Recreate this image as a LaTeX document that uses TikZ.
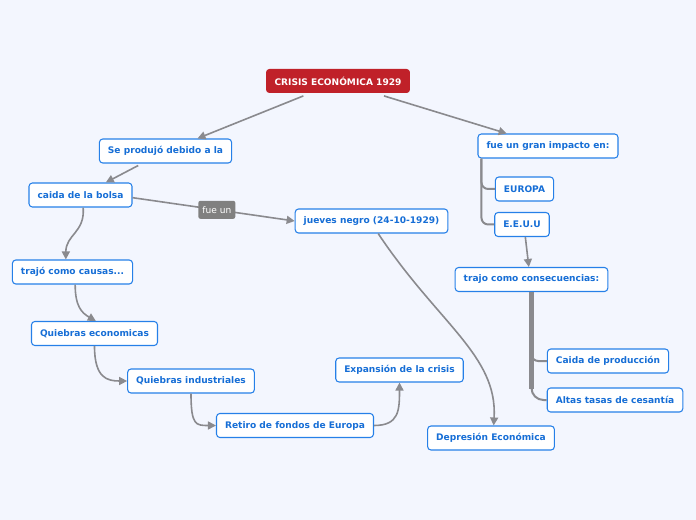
\documentclass[tikz,border=0pt]{standalone}
\usepackage{fontspec}
\setsansfont{DejaVu Sans}
\usetikzlibrary{arrows.meta}

\definecolor{bgblue}{RGB}{243,246,254}
\definecolor{topicline}{RGB}{38,128,232}
\definecolor{topictext}{RGB}{22,110,214}
\definecolor{crisisred}{RGB}{192,33,41}
\definecolor{taggray}{RGB}{128,128,128}
\definecolor{conngray}{RGB}{138,138,142}

\tikzstyle{every node}=[font=\sffamily\bfseries\fontsize{6.8}{8}\selectfont, inner xsep=6.4pt, inner ysep=0pt, minimum height=18pt]
\tikzstyle{topic}=[draw=topicline, fill=white, text=topictext, rounded corners=2.5pt, line width=0.8pt]
\tikzstyle{central}=[fill=crisisred, text=white, rounded corners=2.5pt]
\tikzstyle{tag}=[fill=taggray, text=white, font=\sffamily\fontsize{6.8}{8}\selectfont, rounded corners=1.5pt, minimum height=13.5pt, inner xsep=3pt]
\tikzstyle{conn}=[draw=conngray, line width=1.2pt, -{Triangle[length=6pt,width=6pt]}]
\tikzstyle{branch}=[draw=conngray, line width=1.5pt, rounded corners=5pt]

\begin{document}
\begin{tikzpicture}[x=0.75pt, y=-0.75pt]
  \fill[bgblue] (0,0) rectangle (696,520);
  \useasboundingbox (0,0) rectangle (696,520);

  \node[central] (crisis) at (338,81) {CRISIS ECONÓMICA 1929};

  % left side
  \node[topic] (debido) at (165.5,151) {Se produjó debido a la};
  \node[topic] (bolsa) at (80.5,195) {caida de la bolsa};
  \node[topic] (causas) at (72.5,272) {trajó como causas...};
  \node[topic] (qeco) at (94.5,333.5) {Quiebras economicas};
  \node[topic] (qind) at (191,381) {Quiebras industriales};
  \node[topic] (retiro) at (295,425.5) {Retiro de fondos de Europa};
  \node[topic] (expansion) at (399.5,370) {Expansión de la crisis};
  \node[topic] (jueves) at (371.5,221) {jueves negro (24-10-1929)};
  \node[topic] (depresion) at (491,438) {Depresión Económica};

  % right side
  \node[topic] (impacto) at (548,146) {fue un gran impacto en:};
  \node[topic] (europa) at (524.5,189) {EUROPA};
  \node[topic] (eeuu) at (522,224.5) {E.E.U.U};
  \node[topic] (consec) at (531.5,279.5) {trajo como consecuencias:};
  \node[topic] (produccion) at (608,361) {Caida de producción};
  \node[topic] (cesantia) at (615,400) {Altas tasas de cesantía};

  \draw[conn] ([xshift=-26pt,yshift=-2pt]crisis.south) -- ([xshift=24pt]debido.north);
  \draw[conn] ([xshift=34.5pt,yshift=-2pt]crisis.south) -- ([xshift=-31pt]impacto.north);
  \draw[conn] ([xshift=-20.5pt,yshift=-1.5pt]debido.south) -- ([xshift=19pt]bolsa.north);
  \draw[conn] ([yshift=-2pt]bolsa.east) -- node[tag, pos=0.52] (fueun) {fue un} (jueves.west);

  \draw[conn] ([xshift=2pt]bolsa.south) .. controls +(2,25) and +(0,-25) .. ([xshift=-5pt]causas.north);
  \draw[conn] ([xshift=2pt]causas.south) .. controls +(0,22) and +(-14,-8) .. ([xshift=1pt]qeco.north);
  \draw[conn] (qeco.south) .. controls +(0,32) and +(-20,0) .. (qind.west);
  \draw[conn] (qind.south) .. controls +(0,32) and +(-20,0) .. (retiro.west);
  \draw[conn] (retiro.east) .. controls +(25,0) and +(0,28) .. (expansion.south);
  \draw[conn] ([xshift=5pt]jueves.south) .. controls +(60,90) and +(4,-70) .. ([xshift=2pt]depresion.north);

  \draw[branch] ([xshift=3pt]impacto.south west) |- (europa.west);
  \draw[branch] ([xshift=3pt]impacto.south west) |- (eeuu.west);
  \draw[conn] ([xshift=2.5pt]eeuu.south) -- ([xshift=-2pt]consec.north);

  \draw[branch] (consec.south) |- (produccion.west);
  \draw[branch, rounded corners=9pt] (consec.south) |- (cesantia.west);
  \draw[conngray, line width=3.2pt] (consec.south) -- ([yshift=8pt]consec.south |- cesantia.west);
\end{tikzpicture}
\end{document}
